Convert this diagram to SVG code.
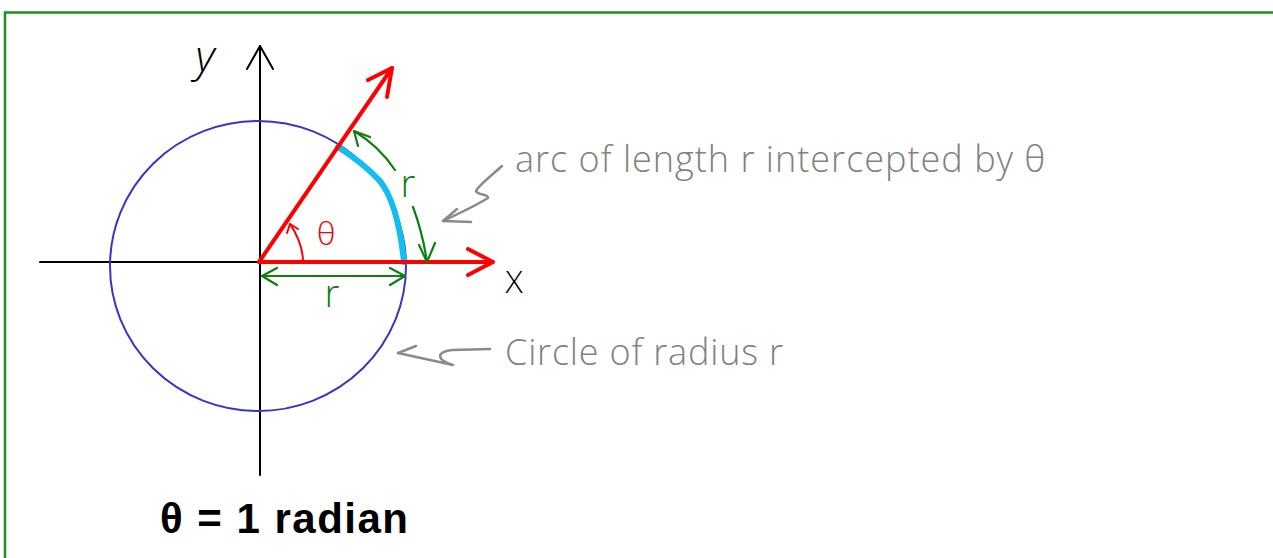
<svg xmlns="http://www.w3.org/2000/svg" width="1273" height="558" viewBox="0 0 1273 558">
<style>
.ax{stroke:#000;stroke-width:2;fill:none;stroke-linecap:round;stroke-linejoin:round}
.red{stroke:#f00;stroke-width:4;fill:none;stroke-linecap:round;stroke-linejoin:round}
.grn{stroke:#0f7f0f;stroke-width:2.2;fill:none;stroke-linecap:round;stroke-linejoin:round}
.gry{stroke:#8a8a8a;stroke-width:2.5;fill:none;stroke-linecap:round;stroke-linejoin:round}
.hand{font-family:"Open Sans","Liberation Sans",sans-serif;font-weight:300}
</style>
<rect width="1273" height="558" fill="#fff"/>
<g id="frame">
<path d="M5,558 V12.5 H1273" stroke="#1f8f1f" stroke-width="2.5" fill="none"/>
</g>
<g id="axes">
<path class="ax" d="M40,262 H259"/>
<path class="ax" d="M260,475 V46"/>
<path class="ax" d="M247,69 L260,46 L273,69"/>
<text class="hand" x="205" y="72" font-size="44" text-anchor="middle" font-style="italic">y</text>
<text class="hand" x="514" y="293" font-size="32" text-anchor="middle">X</text>
</g>
<g id="circle">
<ellipse cx="258" cy="266" rx="148" ry="145" fill="none" stroke="#3535c8" stroke-width="2"/>
</g>
<g id="arc">
<path d="M338,147 Q362,162 380,181 Q398,204 404,262" fill="none" stroke="#13bdf2" stroke-width="6" stroke-linecap="round" stroke-linejoin="round"/>
</g>
<g id="rays">
<path class="red" d="M259,262 H492"/>
<path class="red" d="M468,249 L493,262 L468,275"/>
<path class="red" d="M259,262 L392,68"/>
<path class="red" d="M368,80 L392,68 L387,97"/>
<path d="M303,262 C303,250 298,236 290,224" stroke="#f00" stroke-width="2" fill="none" stroke-linecap="round"/>
<path d="M287,233 L290,224 L298,229" stroke="#f00" stroke-width="2" fill="none" stroke-linecap="round" stroke-linejoin="round"/>
<text class="hand" x="326" y="245" font-size="32" fill="#f00" text-anchor="middle">θ</text>
</g>
<g id="connectors">
<path class="grn" d="M262,276 H405"/>
<path class="grn" d="M277,268 L262,276 L277,285"/>
<path class="grn" d="M390,268 L405,276 L390,285"/>
<path class="grn" d="M395,170 C383,152 369,140 354,131"/>
<path class="grn" d="M370,137 L354,131 L358,146"/>
<path class="grn" d="M413,207 C419,223 424,242 427,262"/>
<path class="grn" d="M419,245 L427,262 L435,243"/>
<path class="gry" d="M502,166 C492,175 478,186 476,191 C478,196 488,193 488,198 C475,206 458,214 443,221"/>
<path class="gry" d="M457,209 L443,221 L471,222"/>
<path class="gry" d="M490,349 L452,350 C436,352 436,360 453,365 L398,353"/>
<path class="gry" d="M416,346 L398,353"/>
</g>
<g id="labels">
<text class="hand" x="332" y="307" font-size="38" fill="#0f7f0f" text-anchor="middle">r</text>
<text class="hand" x="408" y="197" font-size="38" fill="#0f7f0f" text-anchor="middle">r</text>
<text class="hand" x="515" y="172" font-size="36" fill="#808080" textLength="530" lengthAdjust="spacing">arc of length r intercepted by θ</text>
<text class="hand" x="505" y="365" font-size="36" fill="#808080" textLength="278" lengthAdjust="spacing">Circle of radius r</text>
<text x="160" y="533" font-size="42" font-weight="bold" font-family="Liberation Sans, sans-serif" fill="#000" textLength="248" lengthAdjust="spacing">θ = 1 radian</text>
</g>
</svg>
